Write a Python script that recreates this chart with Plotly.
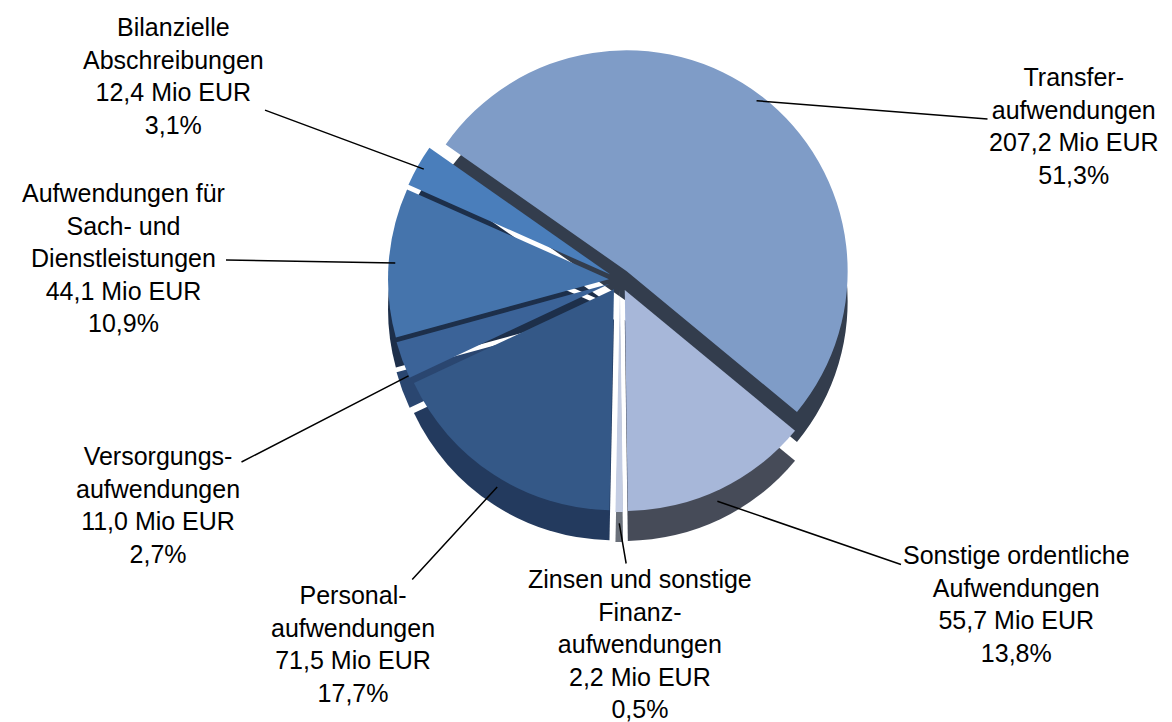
import math
import plotly.graph_objects as go

# ---- data ----
categories = [
    "Transfer-<br>aufwendungen",
    "Sonstige ordentliche<br>Aufwendungen",
    "Zinsen und sonstige<br>Finanz-<br>aufwendungen",
    "Personal-<br>aufwendungen",
    "Versorgungs-<br>aufwendungen",
    "Aufwendungen für<br>Sach- und<br>Dienstleistungen",
    "Bilanzielle<br>Abschreibungen",
]
values_mio = [207.2, 55.7, 2.2, 71.5, 11.0, 44.1, 12.4]
value_labels = ["207,2", "55,7", "2,2", "71,5", "11,0", "44,1", "12,4"]
percent_labels = ["51,3%", "13,8%", "0,5%", "17,7%", "2,7%", "10,9%", "3,1%"]

# ---- style ----
top_colors = ["#7F9CC7", "#A7B7D9", "#C4CDE3", "#345887", "#3B6398", "#4574AC", "#4A7EBB"]
side_colors = ["#333D4D", "#464B58", "#6A707A", "#233A5E", "#2A4670", "#1D2F4A", "#1D2F4A"]
pull = 0.05
rotation = -55

W, H = 1172, 722
cx, cy, R = 612, 272, 232     # pie box (pixels)
depth = 30

def px2paper(x, y):
    return x / W, 1 - y / H

top_dom = dict(x=[(cx - R) / W, (cx + R) / W], y=[1 - (cy + R) / H, 1 - (cy - R) / H])
bot_dom = dict(x=top_dom["x"], y=[1 - (cy + R + depth) / H, 1 - (cy - R + depth) / H])

common = dict(values=values_mio, sort=False, direction="clockwise", rotation=rotation,
              pull=[pull] * len(values_mio), textinfo="none", hoverinfo="skip",
              showlegend=False, marker_line_width=0)

fig = go.Figure()
fig.add_trace(go.Pie(labels=categories, domain=bot_dom, marker_colors=side_colors, **common))
fig.add_trace(go.Pie(labels=categories, domain=top_dom, marker_colors=top_colors, **common))

# label text centres (pixels)
label_pos = [(1066, 118), (1008, 596), (632, 636), (345, 636), (150, 497), (115, 250), (165, 68)]

total = sum(values_mio)
r_eff = R / (1 + pull)
cum = 0.0
annotations = []
for i, v in enumerate(values_mio):
    mid = math.radians(rotation + (cum + v / 2) / total * 360)
    cum += v
    rr = r_eff * 0.97 + pull * r_eff
    tx = cx + rr * math.sin(mid)
    ty = cy - rr * math.cos(mid)
    if -math.cos(mid) > 0.05:
        ty += depth * 0.6
    lx, ly = label_pos[i]
    text = f"{categories[i]}<br>{value_labels[i]} Mio EUR<br>{percent_labels[i]}"
    x, y = px2paper(tx, ty)
    annotations.append(dict(x=x, y=y, xref="paper", yref="paper", text=text,
                            showarrow=True, arrowhead=0, arrowwidth=1.5, arrowcolor="black",
                            ax=lx - tx, ay=ly - ty, axref="pixel", ayref="pixel",
                            font=dict(family="Liberation Sans, Arial, sans-serif", size=25, color="black"),
                            align="center"))

fig.update_layout(width=W, height=H, margin=dict(l=0, r=0, t=0, b=0),
                  paper_bgcolor="white", plot_bgcolor="white",
                  annotations=annotations)

fig.write_html("out.html")
